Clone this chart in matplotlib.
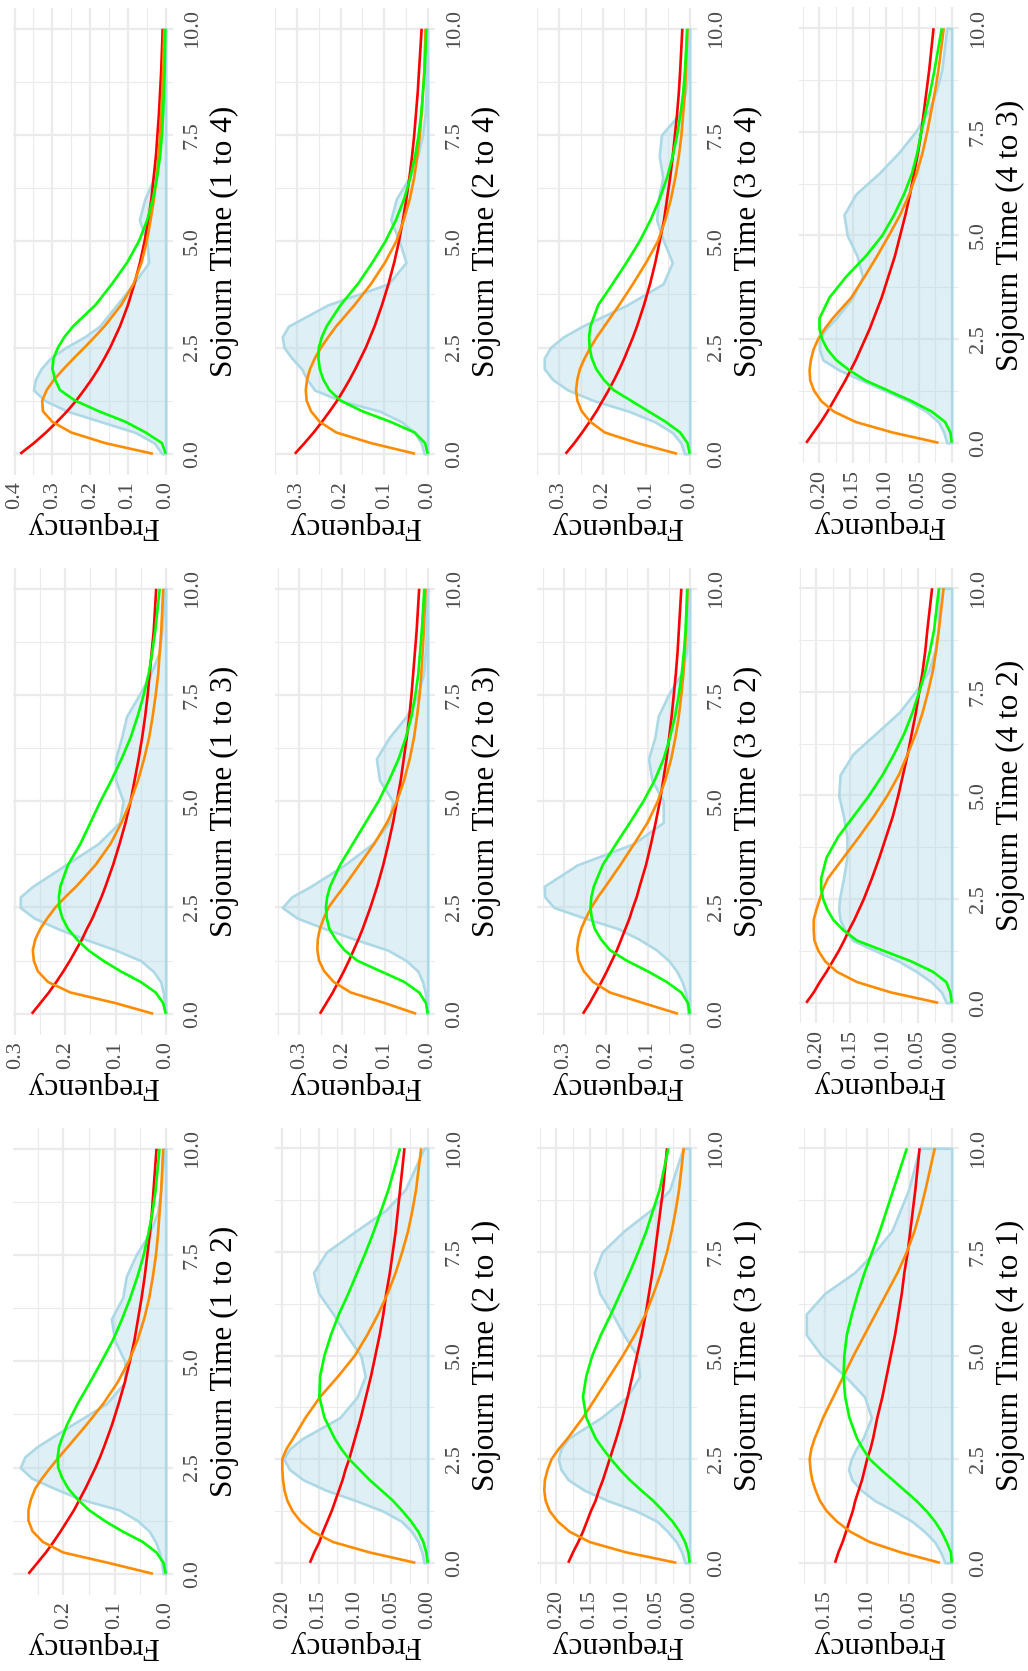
import matplotlib
matplotlib.use('Agg')
import matplotlib.pyplot as plt
from matplotlib.ticker import MultipleLocator, AutoMinorLocator, FormatStrFormatter

plt.rcParams['font.family'] = ['Liberation Serif', 'DejaVu Serif']

# sojourn time grid shared by every curve
T = [0, 0.25, 0.5, 0.75, 1, 1.25, 1.5, 1.75, 2, 2.25, 2.5, 2.75, 3, 3.5, 4, 4.5, 5, 5.5, 6, 6.5, 7, 7.5, 8, 8.5, 9, 10]

dens_1_4 = [.01, .03, .08, .17, .26, .32, .35, .345, .33, .305, .265, .215, .175, .13, .085, .045, .05, .07, .055, .03, .02, .013, .008, .006, .003, .001]
expo_1_4 = [.385, .349, .317, .288, .261, .237, .216, .196, .178, .162, .147, .134, .121, .100, .083, .068, .056, .046, .038, .032, .026, .022, .018, .015, .012, .008]
lnorm_1_4 = [.034, .16, .25, .30, .325, .327, .315, .295, .27, .243, .215, .188, .162, .118, .085, .064, .05, .04, .031, .024, .019, .015, .012, .009, .007, .004]
gamma_1_4 = [0, .01, .053, .106, .177, .24, .28, .293, .30, .297, .285, .268, .245, .186, .142, .102, .071, .049, .034, .023, .015, .01, .007, .005, .003, .001]

dens_1_3 = [0, .002, .005, .01, .025, .05, .1, .16, .215, .262, .29, .29, .265, .2, .135, .092, .085, .1, .1, .088, .078, .053, .03, .013, .008, .002]
expo_1_3 = [.267, .250, .233, .218, .204, .191, .179, .167, .157, .146, .137, .128, .120, .105, .092, .080, .070, .062, .054, .047, .041, .036, .032, .028, .024, .019]
lnorm_1_3 = [.025, .10, .19, .235, .255, .263, .265, .26, .25, .236, .22, .2, .178, .14, .11, .088, .07, .055, .043, .033, .026, .02, .015, .012, .009, .005]
gamma_1_3 = [0, .005, .02, .05, .09, .125, .155, .177, .195, .206, .212, .213, .21, .195, .17, .15, .13, .108, .088, .07, .056, .044, .034, .027, .021, .012]

dens_1_2 = [.005, .008, .012, .02, .032, .055, .09, .165, .216, .262, .284, .275, .25, .184, .116, .08, .08, .1, .106, .084, .077, .058, .032, .016, .01, .003]
expo_1_2 = [.268, .251, .234, .219, .205, .192, .179, .168, .157, .147, .137, .128, .120, .105, .092, .080, .070, .061, .054, .047, .041, .036, .031, .027, .024, .018]
lnorm_1_2 = [.025, .11, .2, .24, .26, .268, .268, .263, .255, .241, .225, .208, .19, .155, .122, .094, .072, .055, .042, .032, .025, .019, .015, .012, .009, .005]
gamma_1_2 = [0, .004, .018, .045, .085, .12, .15, .172, .19, .202, .21, .211, .208, .193, .172, .148, .125, .103, .085, .069, .055, .043, .034, .026, .02, .012]

dens_2_4 = [.008, .015, .03, .06, .11, .2, .26, .277, .29, .312, .33, .334, .32, .23, .09, .05, .065, .085, .072, .042, .023, .012, .006, .004, .002, .001]
expo_2_4 = [.305, .283, .262, .243, .225, .208, .193, .179, .166, .154, .142, .132, .122, .105, .090, .077, .066, .057, .049, .042, .036, .031, .027, .023, .020, .014]
lnorm_2_4 = [.029, .13, .21, .248, .268, .278, .28, .277, .27, .259, .245, .228, .21, .168, .13, .098, .072, .055, .041, .031, .024, .018, .014, .011, .008, .005]
gamma_2_4 = [0, .006, .03, .085, .15, .2, .226, .24, .248, .251, .25, .243, .232, .2, .16, .127, .097, .073, .054, .04, .029, .021, .015, .011, .007, .003]

dens_2_3 = [.002, .003, .006, .012, .023, .05, .094, .17, .24, .305, .34, .318, .273, .195, .129, .09, .082, .113, .12, .09, .05, .023, .01, .006, .003, .001]
expo_2_3 = [.252, .237, .222, .209, .196, .184, .173, .162, .152, .143, .134, .126, .118, .104, .092, .081, .072, .063, .056, .049, .043, .038, .034, .030, .026, .020]
lnorm_2_3 = [.027, .1, .18, .22, .242, .254, .258, .257, .252, .243, .232, .214, .195, .16, .125, .095, .072, .055, .042, .032, .025, .019, .015, .012, .009, .005]
gamma_2_3 = [0, .004, .02, .055, .11, .165, .195, .215, .23, .236, .238, .235, .228, .205, .175, .145, .115, .09, .068, .051, .038, .029, .022, .018, .014, .008]

dens_2_1 = [.005, .008, .013, .022, .036, .062, .099, .14, .171, .19, .198, .19, .172, .121, .097, .086, .092, .112, .13, .15, .157, .139, .099, .058, .031, .005]
expo_2_1 = [.162, .156, .149, .144, .138, .132, .127, .122, .117, .113, .108, .104, .100, .092, .085, .078, .072, .066, .061, .057, .052, .048, .044, .041, .038, .032]
lnorm_2_1 = [.017, .08, .13, .158, .175, .186, .193, .197, .199, .2, .2, .194, .185, .168, .148, .123, .1, .083, .068, .055, .044, .035, .027, .021, .016, .009]
gamma_2_1 = [0, .002, .006, .013, .023, .035, .048, .064, .08, .094, .108, .119, .128, .142, .149, .148, .142, .133, .122, .109, .097, .085, .074, .064, .054, .038]

dens_3_4 = [.012, .02, .04, .08, .14, .22, .28, .315, .334, .334, .32, .29, .247, .144, .061, .04, .06, .076, .072, .062, .07, .065, .023, .01, .005, .001]
expo_3_4 = [.285, .265, .247, .230, .214, .200, .186, .173, .161, .150, .140, .130, .121, .105, .091, .079, .069, .059, .052, .045, .039, .034, .029, .025, .022, .017]
lnorm_3_4 = [.029, .12, .195, .228, .248, .258, .261, .258, .252, .241, .228, .213, .196, .162, .13, .1, .073, .056, .043, .033, .025, .019, .015, .011, .009, .005]
gamma_3_4 = [0, .005, .022, .055, .095, .135, .175, .198, .215, .225, .23, .231, .228, .21, .177, .145, .115, .09, .069, .052, .039, .029, .021, .015, .011, .006]

dens_3_2 = [.004, .006, .01, .018, .031, .05, .079, .12, .17, .25, .323, .345, .346, .268, .134, .063, .063, .09, .098, .083, .075, .051, .02, .008, .004, .001]
expo_3_2 = [.254, .238, .224, .210, .197, .185, .173, .163, .153, .143, .135, .126, .119, .104, .092, .081, .071, .063, .055, .049, .043, .038, .033, .029, .026, .020]
lnorm_3_2 = [.028, .11, .19, .23, .252, .264, .268, .265, .258, .247, .234, .218, .2, .165, .132, .1, .076, .058, .044, .034, .026, .02, .015, .012, .009, .005]
gamma_3_2 = [0, .004, .02, .055, .1, .15, .19, .211, .226, .233, .236, .234, .228, .207, .175, .142, .11, .083, .062, .047, .035, .026, .019, .014, .01, .006]

dens_3_1 = [.007, .012, .02, .033, .049, .08, .123, .158, .182, .193, .197, .193, .182, .133, .094, .075, .079, .099, .116, .135, .143, .131, .099, .059, .03, .01]
expo_3_1 = [.182, .175, .167, .160, .154, .148, .141, .136, .130, .125, .120, .115, .110, .101, .093, .086, .079, .072, .066, .061, .056, .052, .048, .044, .040, .034]
lnorm_3_1 = [.02, .095, .15, .18, .198, .21, .216, .218, .217, .213, .207, .196, .183, .16, .14, .12, .1, .082, .066, .054, .043, .034, .027, .021, .016, .009]
gamma_3_1 = [0, .002, .007, .015, .026, .04, .055, .073, .09, .105, .118, .13, .141, .155, .16, .155, .146, .133, .118, .104, .09, .077, .065, .055, .045, .032]

dens_4_3 = [.0075, .012, .02, .038, .065, .1, .135, .17, .195, .2, .2, .19, .175, .15, .135, .143, .158, .163, .145, .11, .08, .055, .035, .023, .015, .0075]
expo_4_3 = [.22, .209, .198, .188, .179, .170, .161, .153, .145, .138, .131, .124, .118, .106, .096, .086, .078, .070, .063, .057, .051, .046, .042, .038, .034, .0275]
lnorm_4_3 = [.02, .09, .145, .178, .197, .208, .214, .215, .213, .209, .202, .192, .18, .152, .132, .113, .095, .078, .064, .053, .044, .037, .031, .025, .02, .012]
gamma_4_3 = [0, .002, .01, .03, .06, .095, .13, .155, .175, .188, .196, .2, .2, .185, .16, .13, .105, .087, .072, .06, .052, .046, .039, .032, .026, .015]

dens_4_2 = [.008, .015, .03, .052, .078, .112, .146, .158, .165, .167, .166, .163, .16, .155, .155, .16, .167, .165, .146, .112, .078, .054, .034, .025, .02, .019]
expo_4_2 = [.215, .204, .195, .185, .176, .167, .159, .152, .144, .137, .130, .124, .118, .107, .097, .087, .079, .072, .065, .059, .053, .048, .043, .039, .036, .029]
lnorm_4_2 = [.02, .09, .14, .17, .187, .197, .203, .204, .204, .2, .195, .19, .183, .16, .137, .115, .095, .078, .065, .053, .043, .035, .028, .023, .019, .012]
gamma_4_2 = [0, .002, .008, .028, .06, .1, .14, .16, .175, .184, .19, .193, .193, .185, .168, .145, .122, .102, .085, .07, .058, .048, .039, .032, .026, .019]

dens_4_1 = [.008, .013, .02, .032, .047, .068, .091, .107, .118, .122, .119, .113, .105, .095, .103, .126, .154, .172, .172, .15, .115, .091, .071, .061, .051, .038]
expo_4_1 = [.138, .134, .129, .125, .121, .117, .114, .110, .106, .103, .100, .096, .093, .088, .082, .077, .072, .067, .063, .059, .056, .052, .049, .046, .043, .038]
lnorm_4_1 = [.014, .06, .097, .12, .136, .148, .156, .161, .165, .167, .168, .166, .162, .152, .14, .128, .116, .103, .09, .077, .064, .053, .044, .037, .031, .02]
gamma_4_1 = [0, .001, .006, .012, .02, .03, .042, .056, .07, .084, .097, .105, .112, .121, .126, .128, .127, .124, .118, .111, .103, .094, .085, .077, .069, .053]

# (row, col, from, to, density, exponential, lognormal, gamma, frequency tick step)
panels = [
    (0, 0, 1, 4, dens_1_4, expo_1_4, lnorm_1_4, gamma_1_4, 0.1),
    (1, 0, 1, 3, dens_1_3, expo_1_3, lnorm_1_3, gamma_1_3, 0.1),
    (2, 0, 1, 2, dens_1_2, expo_1_2, lnorm_1_2, gamma_1_2, 0.1),
    (0, 1, 2, 4, dens_2_4, expo_2_4, lnorm_2_4, gamma_2_4, 0.1),
    (1, 1, 2, 3, dens_2_3, expo_2_3, lnorm_2_3, gamma_2_3, 0.1),
    (2, 1, 2, 1, dens_2_1, expo_2_1, lnorm_2_1, gamma_2_1, 0.05),
    (0, 2, 3, 4, dens_3_4, expo_3_4, lnorm_3_4, gamma_3_4, 0.1),
    (1, 2, 3, 2, dens_3_2, expo_3_2, lnorm_3_2, gamma_3_2, 0.1),
    (2, 2, 3, 1, dens_3_1, expo_3_1, lnorm_3_1, gamma_3_1, 0.05),
    (0, 3, 4, 3, dens_4_3, expo_4_3, lnorm_4_3, gamma_4_3, 0.05),
    (1, 3, 4, 2, dens_4_2, expo_4_2, lnorm_4_2, gamma_4_2, 0.05),
    (2, 3, 4, 1, dens_4_1, expo_4_1, lnorm_4_1, gamma_4_1, 0.05),
]

W, H = 1028, 1671
GRID = '#EBEBEB'
LW = 1.9

fig = plt.figure(figsize=(W / 100, H / 100), dpi=100)
fig.patch.set_facecolor('white')

for row, col, a, b, dens, expo, lnorm, gam, step in panels:
    # panel box in pixels; two-decimal tick labels take a little more room
    top_px = 7.5 + 560 * row
    bot_px = (475 if step == 0.1 else 463.5) + 560 * row
    left_px = 13 + 262 * col
    ax = fig.add_axes([left_px / W, 1 - bot_px / H, 160 / W, (bot_px - top_px) / H])

    ax.fill_betweenx(T, 0, dens, facecolor=(0.678, 0.847, 0.902, 0.4),
                     edgecolor='lightblue', linewidth=LW, joinstyle='round', zorder=2)
    for ys, c in ((expo, 'red'), (lnorm, 'darkorange'), (gam, '#00FF00')):
        ax.plot(ys, T, color=c, lw=LW, zorder=3,
                solid_capstyle='butt', solid_joinstyle='round')

    mx = max(max(dens), max(expo), max(lnorm), max(gam))
    ax.set_xlim(mx * 1.05, -mx * 0.05)
    ax.set_ylim(-0.5, 10.5)

    ax.xaxis.set_major_locator(MultipleLocator(step))
    ax.xaxis.set_minor_locator(AutoMinorLocator(2))
    ax.xaxis.set_major_formatter(FormatStrFormatter('%.1f' if step == 0.1 else '%.2f'))
    ax.yaxis.set_major_locator(MultipleLocator(2.5))
    ax.yaxis.set_minor_locator(AutoMinorLocator(2))
    ax.yaxis.set_major_formatter(FormatStrFormatter('%.1f'))

    ax.yaxis.tick_right()
    ax.yaxis.set_label_position('right')
    ax.tick_params(which='both', length=0, labelsize=16, labelcolor='#4D4D4D')
    ax.tick_params(axis='x', labelrotation=90, pad=4.5)
    ax.tick_params(axis='y', labelrotation=90, pad=7)
    for lab in ax.get_yticklabels():
        lab.set_va('center')

    ax.grid(which='major', color=GRID, lw=1.6)
    ax.grid(which='minor', color=GRID, lw=0.8)
    ax.set_axisbelow(True)
    for s in ax.spines.values():
        s.set_visible(False)

    ax.set_xlabel('Frequency', rotation=180, fontsize=22.5, labelpad=1)
    ax.set_ylabel(f'Sojourn Time ({a} to {b})', rotation=90, fontsize=22.5, labelpad=6)

fig.savefig('out.png', dpi=100, facecolor='white')
